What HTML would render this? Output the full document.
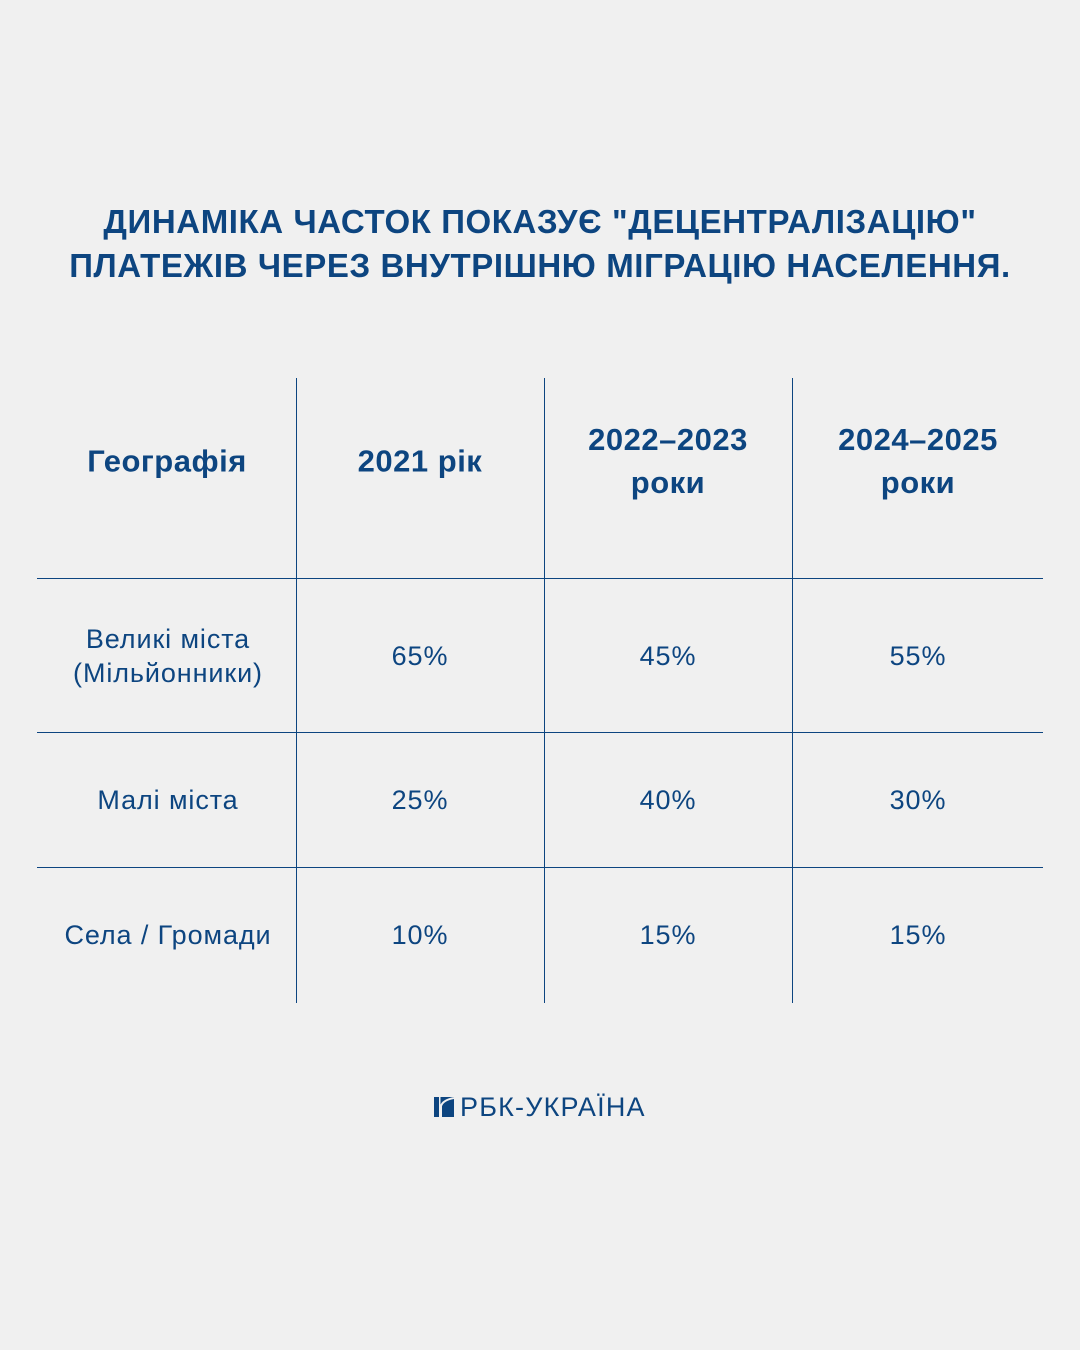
<!DOCTYPE html>
<html><head><meta charset="utf-8"><style>
body{margin:0;width:1080px;height:1350px;background:#f0f0f0;position:relative;font-family:"Liberation Sans",sans-serif;color:#0d4580;overflow:hidden}
.t{position:absolute;left:0;width:1080px;text-align:center;font-weight:bold;font-size:33px;line-height:44px;top:200px;letter-spacing:0.6px}
.v{position:absolute;top:378px;height:625px;width:1px;background:#0d4580}
.h{position:absolute;left:37px;width:1006px;height:1px;background:#0d4580}
.c{position:absolute;text-align:center;transform:translate(-50%,-50%);white-space:nowrap}
.hd{font-weight:bold;font-size:31px;line-height:43px;letter-spacing:0.5px}
.b{font-size:27px;line-height:34px;letter-spacing:0.9px}
</style></head><body>
<div class="t">ДИНАМІКА ЧАСТОК ПОКАЗУЄ "ДЕЦЕНТРАЛІЗАЦІЮ"<br>ПЛАТЕЖІВ ЧЕРЕЗ ВНУТРІШНЮ МІГРАЦІЮ НАСЕЛЕННЯ.</div>
<div class="v" style="left:296px"></div><div class="v" style="left:544px"></div><div class="v" style="left:792px"></div>
<div class="h" style="top:578px"></div><div class="h" style="top:732px"></div><div class="h" style="top:867px"></div>
<div class="c hd" style="left:167px;top:461px">Географія</div>
<div class="c hd" style="left:420px;top:461px">2021 рік</div>
<div class="c hd" style="left:668px;top:461px">2022–2023<br>роки</div>
<div class="c hd" style="left:918px;top:461px">2024–2025<br>роки</div>
<div class="c b" style="left:168px;top:656px">Великі міста<br>(Мільйонники)</div>
<div class="c b" style="left:420px;top:656px">65%</div>
<div class="c b" style="left:668px;top:656px">45%</div>
<div class="c b" style="left:918px;top:656px">55%</div>
<div class="c b" style="left:168px;top:800px">Малі міста</div>
<div class="c b" style="left:420px;top:800px">25%</div>
<div class="c b" style="left:668px;top:800px">40%</div>
<div class="c b" style="left:918px;top:800px">30%</div>
<div class="c b" style="left:168px;top:935px">Села / Громади</div>
<div class="c b" style="left:420px;top:935px">10%</div>
<div class="c b" style="left:668px;top:935px">15%</div>
<div class="c b" style="left:918px;top:935px">15%</div>
<svg style="position:absolute;left:434px;top:1097px" width="20" height="20"><rect x="0" y="0" width="20" height="20" fill="#0d4580"/><path d="M7 20 V9 Q9 3 20 1" stroke="#f0f0f0" stroke-width="2" fill="none"/><rect x="5" y="0" width="1.5" height="20" fill="#f0f0f0"/></svg>
<div style="position:absolute;left:460px;top:1092px;font-size:27px;line-height:30px;letter-spacing:1.2px">РБК-УКРАЇНА</div>
</body></html>
